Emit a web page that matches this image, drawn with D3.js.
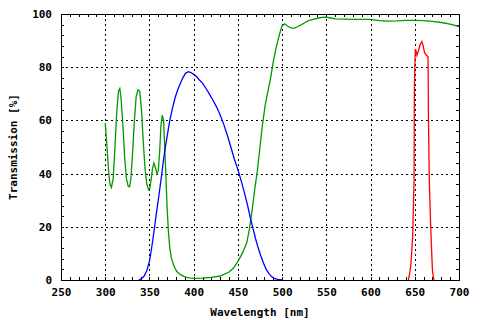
<!DOCTYPE html>
<html>
<head>
<meta charset="utf-8">
<script src="https://cdn.jsdelivr.net/npm/d3@7"></script>
<style>
  body { margin: 0; background: #fff; }
  text { font-family: "DejaVu Sans Mono", "Liberation Mono", monospace; font-weight: bold; font-size: 11px; }
</style>
</head>
<body>
<div id="svg-container"></div>
<script>
// wavelength [nm] / transmission [%] pairs for each filter
var greenNm = [300,302,304,305.5,307,309,311,313,315,316.5,318,320,322,324,326,327.5,329,331,333,335,337,339,341,343,345,347,349,350.5,352,353.5,355,357,358.5,360,361.5,363,364.5,366,367,368.5,370,371.5,373,375,378,381,385,390,395,400,410,420,430,440,445,450,455,460,463,466,469,472,475,478,481,484,487,490,493,496,498,500,503,506,510,514,518,522,526,530,535,540,545,550,555,560,570,580,590,600,610,620,630,640,650,660,670,680,690,700];
var greenT  = [59,50,40,36,34.8,38,50,63,71,72,68,58,46,38,35.2,35,38,48,60,69,71.5,71,64,52,42,36,34,34.5,38,42,44,42,40,41,48,58,62,60,52,40,27,18,12,8,5,3.2,2,1.2,0.8,0.6,0.7,1,1.5,3,4.5,7,10,14,19,26,34,41,50,59,66,71,76,82,87,91,93.5,95.5,96.3,95.5,94.8,94.7,95.3,96,96.8,97.5,98,98.4,98.7,98.8,98.5,98.2,98.1,98,98,98,97.5,97.3,97.4,97.6,97.6,97.5,97.2,96.8,96.2,95.3];

var blueNm = [338,341,344,347,350,352,354,356,358,360,362,364,366,368,370,373,376,379,382,385,388,391,394,397,400,403,406,410,414,418,422,426,430,434,438,442,446,450,454,458,461,464,467,470,473,476,479,482,485,488,491,495,500];
var blueT  = [0,0.5,1.5,3.5,7,11,15.5,20.5,25.5,30,35,40,45.5,50,54,60,64.5,68.5,71.5,74,76.2,77.8,78.3,78,77.3,76.5,75.4,74,72,69.8,67.5,65,62,58.5,54.5,50,45.5,41.5,37,32,28,23.5,19.5,15.5,12,9,6.3,4,2.5,1.3,0.6,0.2,0];

var redNm = [642.7,644,645.7,647.6,649.2,649.5,650,650.6,651.5,652.5,654,656,658,659.5,661,663,665,665.5,666.4,668,669.9,671,672];
var redT  = [0,2,6.3,16.3,37.6,70,80,86.8,86,84.5,86,88.5,89.6,88,85.5,84.5,84,60,37.6,20,4,1,0];

var xTicks = [250,300,350,400,450,500,550,600,650,700];
var yTicks = [0,20,40,60,80,100];

var margin = {top:14, right:21, bottom:40, left:61};
var width = 480, height = 320;
var plotW = width - margin.left - margin.right;
var plotH = height - margin.top - margin.bottom;

var svg = d3.select("#svg-container")
    .append("svg")
    .attr("width", width)
    .attr("height", height);

svg.append("rect").attr("width", width).attr("height", height).attr("fill", "#fff");

var g = svg.append("g").attr("transform", "translate(" + margin.left + "," + margin.top + ")");

var x = d3.scaleLinear().domain([250,700]).range([0, plotW]);
var y = d3.scaleLinear().domain([0,100]).range([plotH, 0]);

// dotted grid
g.selectAll(".vgrid")
    .data(xTicks.slice(1, -1))
    .enter().append("line")
    .attr("x1", d => Math.round(x(d)) + 0.5).attr("x2", d => Math.round(x(d)) + 0.5)
    .attr("y1", 0).attr("y2", plotH)
    .attr("stroke", "#000").attr("stroke-dasharray", "2,3");
g.selectAll(".hgrid")
    .data(yTicks.slice(1, -1))
    .enter().append("line")
    .attr("y1", d => Math.round(y(d)) + 0.5).attr("y2", d => Math.round(y(d)) + 0.5)
    .attr("x1", 0).attr("x2", plotW)
    .attr("stroke", "#000").attr("stroke-dasharray", "2,3");

// minor ticks, inward on all four sides
var xMinor = d3.range(250, 701, 10);
var yMinor = d3.range(0, 101, 4);
function inTicks(axis, len) {
    return axis.tickSize(len).tickFormat("");
}
g.append("g").attr("transform", "translate(0," + plotH + ")")
    .call(inTicks(d3.axisTop(x).tickValues(xMinor), 3));
g.append("g")
    .call(inTicks(d3.axisBottom(x).tickValues(xMinor), 3));
g.append("g")
    .call(inTicks(d3.axisRight(y).tickValues(yMinor), 3));
g.append("g").attr("transform", "translate(" + plotW + ",0)")
    .call(inTicks(d3.axisLeft(y).tickValues(yMinor), 3));
g.selectAll(".domain").remove();
g.selectAll(".tick line").attr("stroke", "#000").attr("shape-rendering", "crispEdges");

// tick labels
var xAxis = g.append("g").attr("transform", "translate(0," + plotH + ")")
    .call(d3.axisBottom(x).tickValues(xTicks).tickSize(0).tickPadding(8));
var yAxis = g.append("g")
    .call(d3.axisLeft(y).tickValues(yTicks).tickSize(0).tickPadding(9));
[xAxis, yAxis].forEach(function(a) {
    a.select(".domain").remove();
    a.selectAll("text").attr("fill", "#000").style("font-family", null).style("font-size", null)
        .attr("font-family", null).attr("font-size", null);
});

// curves
var line = d3.line().x(d => x(d[0])).y(d => y(d[1]));
var series = [
    {nm: greenNm, t: greenT, color: "#009900"},
    {nm: blueNm,  t: blueT,  color: "#0000ff"},
    {nm: redNm,   t: redT,   color: "#ff0000"}
];
series.forEach(function(s) {
    g.append("path")
        .datum(s.nm.map((v, i) => [v, s.t[i]]))
        .attr("d", line)
        .attr("fill", "none")
        .attr("stroke", s.color)
        .attr("stroke-width", 1.3);
});

// frame
g.append("rect")
    .attr("x", 0.5).attr("y", 0.5)
    .attr("width", plotW).attr("height", plotH)
    .attr("fill", "none").attr("stroke", "#000")
    .attr("shape-rendering", "crispEdges");

// axis titles
svg.append("text")
    .attr("x", margin.left + plotW / 2).attr("y", 316)
    .attr("text-anchor", "middle")
    .text("Wavelength [nm]");
svg.append("text")
    .attr("transform", "translate(17," + (margin.top + plotH / 2) + ") rotate(-90)")
    .attr("text-anchor", "middle")
    .text("Transmission [%]");
</script>
</body>
</html>
